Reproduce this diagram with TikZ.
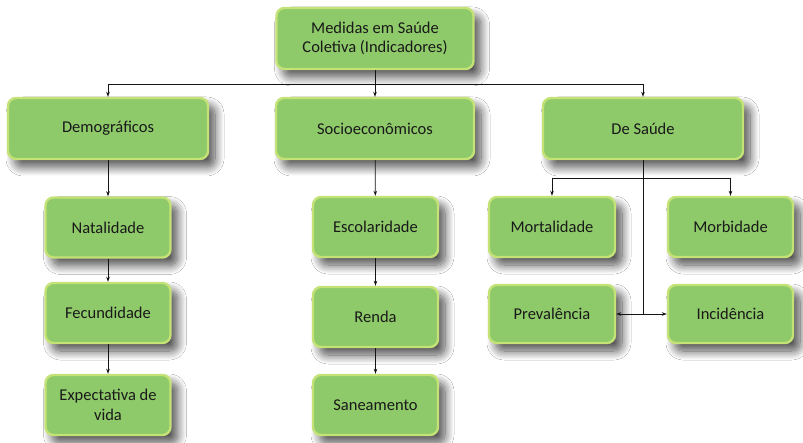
\documentclass[tikz,border=0pt]{standalone}
\usepackage{fontspec}
\setmainfont{Carlito}
\usetikzlibrary{arrows.meta,shadows.blur}
\definecolor{boxgreen}{RGB}{142,201,106}
\definecolor{boxrim}{RGB}{196,226,118}
\definecolor{inktext}{RGB}{25,25,25}
\definecolor{linecol}{RGB}{20,20,20}
\tikzset{
  card/.style={rectangle, rounded corners=8pt, fill=boxgreen, draw=boxrim, line width=2.4pt,
    text=inktext, align=center, font=\fontsize{16.5}{19.5}\selectfont, inner sep=2pt,
    blur shadow={shadow xshift=7pt, shadow yshift=-8pt, shadow blur steps=14, shadow blur radius=9pt, shadow opacity=70}},
  wire/.style={draw=linecol, line width=0.8pt},
  arr/.style={wire, -{Stealth[length=5pt,width=3.5pt]}},
  darr/.style={wire, {Stealth[length=5pt,width=3.5pt]}-{Stealth[length=5pt,width=3.5pt]}}
}
\begin{document}
\begin{tikzpicture}[x=1pt,y=-1pt]
\useasboundingbox[fill=white] (0,0) rectangle (803,443);

% top level
\node[card, minimum width=197pt, minimum height=61pt] (top) at (375,38.5) {Medidas em Saúde\\Coletiva (Indicadores)};

% categories
\node[card, minimum width=200pt, minimum height=61pt] (demo) at (108,128.5) {Demográficos};
\node[card, minimum width=198pt, minimum height=61pt] (socio) at (375,128.5) {Socioeconômicos};
\node[card, minimum width=200pt, minimum height=61pt] (saude) at (643,128.5) {De Saúde};

% demographic indicators
\node[card, minimum width=125pt, minimum height=60pt] (nat) at (108,227.5) {Natalidade};
\node[card, minimum width=125pt, minimum height=60pt] (fec) at (108,313) {Fecundidade};
\node[card, minimum width=125pt, minimum height=60pt] (expv) at (108,405) {Expectativa de\\vida};

% socioeconomic indicators
\node[card, minimum width=125pt, minimum height=60pt] (esc) at (375.5,227) {Escolaridade};
\node[card, minimum width=125pt, minimum height=60pt] (renda) at (375.5,317) {Renda};
\node[card, minimum width=125pt, minimum height=60pt] (san) at (375.5,405) {Saneamento};

% health indicators
\node[card, minimum width=126pt, minimum height=60pt] (mort) at (552,227) {Mortalidade};
\node[card, minimum width=125pt, minimum height=60pt] (morb) at (730.5,227) {Morbidade};
\node[card, minimum width=126pt, minimum height=58pt] (prev) at (552,314) {Prevalência};
\node[card, minimum width=125pt, minimum height=58pt] (inc) at (730.5,314) {Incidência};

% top-level branching
\coordinate (bus) at (0,84);
\draw[wire] (demo.north |- bus) -- (saude.north |- bus);
\draw[arr] (top.south) -- (socio.north);
\draw[arr] (demo.north |- bus) -- (demo.north);
\draw[arr] (saude.north |- bus) -- (saude.north);

% chains
\draw[arr] (demo) -- (nat);
\draw[arr] (nat) -- (fec);
\draw[arr] (fec) -- (expv);
\draw[arr] (socio) -- (esc);
\draw[arr] (esc) -- (renda);
\draw[arr] (renda) -- (san);

% health branching
\coordinate (fork) at (0,178);
\draw[wire] (mort.north |- fork) -- (morb.north |- fork);
\draw[arr] (mort.north |- fork) -- (mort.north);
\draw[arr] (morb.north |- fork) -- (morb.north);
\draw[wire] (saude.south) -- (saude.south |- prev.east);
\draw[darr] (prev.east) -- (inc.west);
\end{tikzpicture}
\end{document}
